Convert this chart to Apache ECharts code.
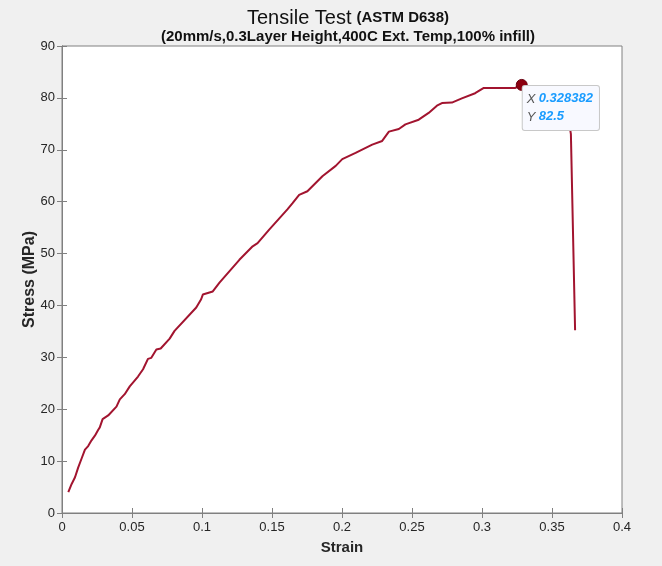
<!DOCTYPE html>
<html>
<head>
<meta charset="utf-8">
<script src="https://cdn.jsdelivr.net/npm/echarts@6/dist/echarts.min.js"></script>
<style>
html,body{margin:0;padding:0;background:#f0f0f0;}
#c{width:662px;height:566px;}
</style>
</head>
<body>
<div id="c"></div>
<script>
const strain = [0.0045,0.0069,0.0093,0.0116,0.014,0.0164,0.0187,0.0211,0.0235,0.0258,0.027,0.029,0.033,0.0389,0.0413,0.0448,0.0484,0.0543,0.0579,0.0614,0.0638,0.0674,0.0705,0.0769,0.0804,0.0959,0.0994,0.1006,0.1077,0.1125,0.1267,0.1362,0.1397,0.148,0.161,0.1647,0.1694,0.1753,0.186,0.1955,0.2002,0.2097,0.2216,0.2287,0.2335,0.2406,0.2453,0.2548,0.2619,0.2678,0.2714,0.2785,0.2856,0.2951,0.301,0.3236,0.328382,0.34,0.355,0.3615,0.3635,0.3665];
const stress = [4.0,5.6,6.9,8.8,10.5,12.2,12.9,14.0,14.9,16.0,16.5,18.1,18.8,20.5,21.9,22.9,24.4,26.3,27.7,29.7,29.9,31.5,31.7,33.6,35.1,39.6,41.2,42.1,42.7,44.4,48.8,51.4,52.0,54.6,58.5,59.7,61.3,62.0,64.9,66.9,68.2,69.4,71.0,71.7,73.5,74.0,74.9,75.8,77.1,78.5,79.0,79.1,79.9,80.9,81.9,81.9,82.5,81.3,79.5,76.5,73.0,35.2];
const tipX = 0.328382;
const tipY = 82.5;
const titleMain = 'Tensile Test';
const titleSuffix = '(ASTM D638)';
const subtitle = '(20mm/s,0.3Layer Height,400C Ext. Temp,100% infill)';

const FONT = '"Liberation Sans", Arial, sans-serif';
const axisCol = '#808080';
const txtCol = '#262626';

const chart = echarts.init(document.getElementById('c'));
const commonAxisLine = {show:true, lineStyle:{color:axisCol, width:1}};
const fmt = v => String(Math.round(v*100)/100);

chart.setOption({
  backgroundColor:'#f0f0f0',
  animation:false,
  title:{
    text:'{a|'+titleMain+'} {b|'+titleSuffix+'}',
    subtext: subtitle,
    left: 343, textAlign:'center',
    top: 3,
    itemGap: 1,
    textStyle:{rich:{
      a:{fontSize:20, fontFamily:FONT, color:'#111', fontWeight:'normal'},
      b:{fontSize:15, fontFamily:FONT, color:'#111', fontWeight:'bold'}
    }},
    subtextStyle:{fontSize:15, fontFamily:FONT, color:'#111', fontWeight:'bold'}
  },
  grid:{left:62, right:40, top:46, bottom:53, show:true, backgroundColor:'#ffffff', borderColor:axisCol, borderWidth:1},
  xAxis:[{
    type:'value', min:0, max:0.4, interval:0.05, position:'bottom',
    name:'Strain', nameLocation:'middle', nameGap:27, nameMoveOverlap:false,
    nameTextStyle:{fontSize:15, fontWeight:'bold', fontFamily:FONT, color:txtCol},
    axisLine:commonAxisLine,
    axisTick:{show:true, inside:true, length:5, lineStyle:{color:axisCol}},
    axisLabel:{fontSize:13, fontFamily:FONT, color:txtCol, margin:8, formatter:fmt},
    splitLine:{show:false}
  },{
    type:'value', min:0, max:0.4, interval:0.05, position:'top',
    axisLine:commonAxisLine,
    axisTick:{show:true, inside:true, length:5, lineStyle:{color:axisCol}},
    axisLabel:{show:false}, splitLine:{show:false}
  }],
  yAxis:[{
    type:'value', min:0, max:90, interval:10, position:'left',
    name:'Stress (MPa)', nameLocation:'middle', nameGap:24, nameRotate:90, nameMoveOverlap:false,
    nameTextStyle:{fontSize:16, fontWeight:'bold', fontFamily:FONT, color:txtCol},
    axisLine:commonAxisLine,
    axisTick:{show:true, inside:true, length:5, lineStyle:{color:axisCol}},
    axisLabel:{fontSize:13, fontFamily:FONT, color:txtCol, margin:7},
    splitLine:{show:false}
  },{
    type:'value', min:0, max:90, interval:10, position:'right',
    axisLine:commonAxisLine,
    axisTick:{show:true, inside:true, length:5, lineStyle:{color:axisCol}},
    axisLabel:{show:false}, splitLine:{show:false}
  }],
  series:[{
    type:'line', z:2,
    data: strain.map((x,i)=>[x, stress[i]]),
    showSymbol:false, symbol:'none',
    lineStyle:{color:'#A2142F', width:2},
    smooth:false
  },{
    type:'scatter', z:5,
    data:[[tipX, tipY]],
    symbol:'circle', symbolSize:11,
    itemStyle:{color:'#8B0010', borderColor:'#6a0010', borderWidth:1, opacity:1},
    label:{
      show:true, position:[7, 7],
      formatter: p => '{k|X} {v|' + tipX + '}\n{k|Y} {v|' + tipY + '}',
      backgroundColor:'#f8f9ff', borderColor:'#c8c8c8', borderWidth:1, borderRadius:2,
      padding:[4,6,4,4],
      rich:{
        k:{fontSize:13, fontStyle:'italic', color:'#555', fontFamily:FONT, lineHeight:18},
        v:{fontSize:13, fontStyle:'italic', fontWeight:'bold', color:'#1a9cff', fontFamily:FONT, lineHeight:18}
      }
    }
  }]
});
</script>
</body>
</html>
